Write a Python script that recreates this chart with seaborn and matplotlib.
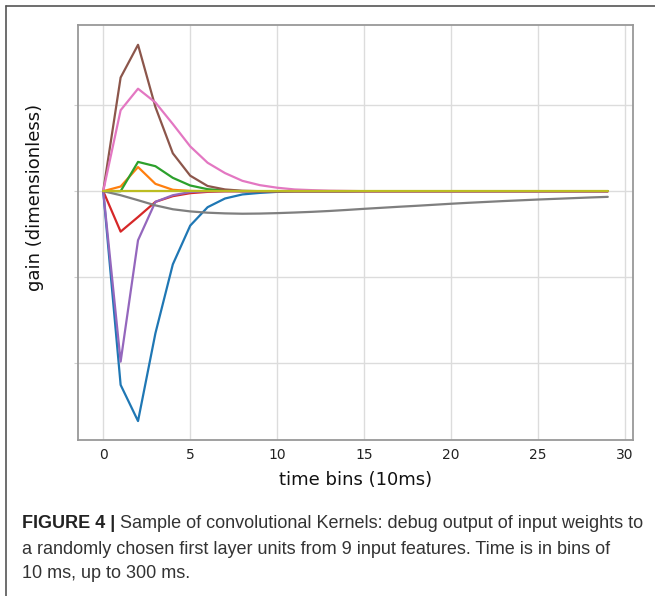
import numpy as np
import pandas as pd
import matplotlib
matplotlib.use("Agg")
import matplotlib.pyplot as plt
from matplotlib.lines import Line2D
import seaborn as sns

# ---- data (y in gridline units, labels hidden) ----
t = list(range(30))
blue   = [0, -2.25, -2.67, -1.65, -0.85, -0.40, -0.186, -0.085, -0.038, -0.02, -0.008] + [0.0]*19
orange = [0, 0.054, 0.28, 0.085, 0.016, 0.003] + [0.0]*24
green  = [0, 0.0, 0.34, 0.29, 0.155, 0.066, 0.023, 0.008] + [0.0]*22
red    = [0, -0.47, -0.30, -0.124, -0.058, -0.023, -0.008] + [0.0]*23
purple = [0, -1.98, -0.57, -0.124, -0.047, -0.01] + [0.0]*24
brown  = [0, 1.32, 1.70, 0.977, 0.44, 0.18, 0.06, 0.02, 0.005] + [0.0]*21
pink   = [0, 0.94, 1.19, 1.03, 0.78, 0.52, 0.33, 0.21, 0.12, 0.07, 0.04, 0.02,
          0.012, 0.006, 0.003] + [0.0]*15
gray   = [0, -0.047, -0.105, -0.165, -0.21, -0.235, -0.25, -0.258, -0.262, -0.26,
          -0.255, -0.248, -0.24, -0.23, -0.218, -0.205, -0.193, -0.181, -0.17, -0.158,
          -0.146, -0.135, -0.125, -0.115, -0.106, -0.097, -0.089, -0.081, -0.073, -0.066]
olive  = [0.0]*30

series = {"f1": blue, "f2": orange, "f3": green, "f4": red, "f5": purple,
          "f6": brown, "f7": pink, "f8": gray, "f9": olive}
x_ticks = [0, 5, 10, 15, 20, 25, 30]
y_ticks = [-2, -1, 0, 1]
x_label = "time bins (10ms)"
y_label = "gain (dimensionless)"
caption_bold = "FIGURE 4 | "
caption_lines = ["Sample of convolutional Kernels: debug output of input weights to",
                 "a randomly chosen first layer units from 9 input features. Time is in bins of",
                 "10 ms, up to 300 ms."]

df = pd.DataFrame([(k, ti, v) for k, vals in series.items() for ti, v in zip(t, vals)],
                  columns=["feature", "t", "gain"])

sns.set_style("white")
plt.rcParams["font.family"] = ["DejaVu Sans"]

fig = plt.figure(figsize=(6.55, 5.96), dpi=100)
ax = fig.add_axes([78/655, 1 - 440/596, (633-78)/655, (440-25)/596])

sns.lineplot(data=df, x="t", y="gain", hue="feature", palette="tab10",
             linewidth=1.6, legend=False, ax=ax, sort=False)

ax.set_xticks(x_ticks)
ax.set_yticks(y_ticks)
ax.set_yticklabels([])
ax.set_xlim(-1.45, 30.45)
ax.set_ylim(-2.89, 1.93)
ax.grid(True, color="#dcdcdc", linewidth=1.0)
ax.set_axisbelow(True)
for s in ax.spines.values():
    s.set_color("#999999")
    s.set_linewidth(1.3)
ax.tick_params(axis="x", length=0, labelsize=10, colors="#222222", pad=6)
ax.tick_params(axis="y", length=3, color="#d0d0d0", left=True, pad=2)
ax.set_xlabel(x_label, fontsize=13, color="#111111", labelpad=6)
ax.set_ylabel(y_label, fontsize=13, color="#111111")
ax.yaxis.set_label_coords(-0.062, 0.585)

# outer frame (top and left lines of the figure panel)
fig.add_artist(Line2D([6/655, 1.0], [1 - 6/596, 1 - 6/596], color="#555555", linewidth=1.2))
fig.add_artist(Line2D([6/655, 6/655], [0, 1 - 6/596], color="#555555", linewidth=1.2))

# caption
cap_font = ["Liberation Sans", "DejaVu Sans"]
cap_size = 13.0
x0 = 22/655
ys = [1 - 524/596, 1 - 549/596, 1 - 573/596]
tb = fig.text(x0, ys[0], caption_bold, fontsize=cap_size, fontweight="bold",
              family=cap_font, color="#222222", va="center")
fig.canvas.draw()
bb = tb.get_window_extent(renderer=fig.canvas.get_renderer())
fig.text(bb.x1/fig.bbox.width, ys[0], caption_lines[0], fontsize=cap_size,
         family=cap_font, color="#333333", va="center")
fig.text(x0, ys[1], caption_lines[1], fontsize=cap_size, family=cap_font, color="#333333", va="center")
fig.text(x0, ys[2], caption_lines[2], fontsize=cap_size, family=cap_font, color="#333333", va="center")

fig.savefig("out.png", dpi=100)
